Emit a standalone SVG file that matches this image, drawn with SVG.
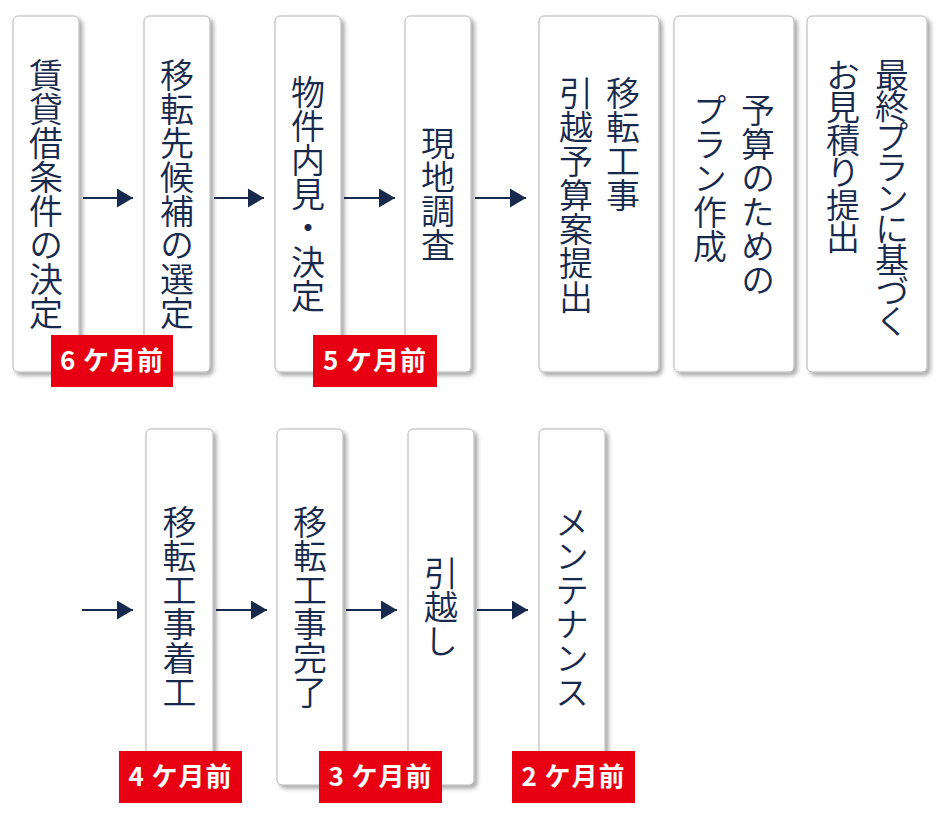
<svg xmlns="http://www.w3.org/2000/svg" width="945" height="820" viewBox="0 0 945 820">
<defs>
<style>
.box{fill:#fff;stroke:#b4b4b4;stroke-width:1;filter:url(#sh)}
.vt{font-family:"Noto Sans CJK JP","Noto Sans CJK SC",sans-serif;font-size:34px;font-weight:350;fill:#172a4d;writing-mode:vertical-rl;text-anchor:middle}
.vs{font-family:"Noto Sans CJK JP","Noto Sans CJK SC",sans-serif;font-size:34px;font-weight:350;fill:#172a4d;writing-mode:vertical-rl;text-anchor:start}
.badge{fill:#e60012}
.bt{font-family:"Noto Sans CJK JP","Noto Sans CJK SC",sans-serif;font-size:26px;font-weight:700;fill:#fff;text-anchor:middle;letter-spacing:1px}
.ar{stroke:#172a4d;stroke-width:2;fill:none;marker-end:url(#ah)}
</style>
<filter id="sh" x="-20%" y="-10%" width="150%" height="130%">
<feDropShadow dx="3" dy="3" stdDeviation="2" flood-color="#000" flood-opacity="0.35"/>
</filter>
<marker id="ah" viewBox="0 0 16 19" refX="16" refY="9.5" markerWidth="16" markerHeight="19" markerUnits="userSpaceOnUse" orient="auto">
<path d="M0,0 L16,9.5 L0,19 Z" fill="#172a4d"/>
</marker>
</defs>

<g id="connectors">
<line class="ar" x1="83" y1="198" x2="133" y2="198"/>
<line class="ar" x1="214" y1="198" x2="264" y2="198"/>
<line class="ar" x1="344" y1="198" x2="395" y2="198"/>
<line class="ar" x1="475" y1="198" x2="526" y2="198"/>
<line class="ar" x1="82" y1="610" x2="133" y2="610"/>
<line class="ar" x1="216" y1="610" x2="267" y2="610"/>
<line class="ar" x1="346" y1="610" x2="397" y2="610"/>
<line class="ar" x1="477" y1="610" x2="528" y2="610"/>
</g>

<g id="n1"><rect class="box" x="13" y="16" width="66" height="356" rx="5"/><text class="vt" x="46" y="194">賃貸借条件の決定</text></g>
<g id="n2"><rect class="box" x="144" y="16" width="66" height="356" rx="5"/><text class="vt" x="177" y="194">移転先候補の選定</text></g>
<g id="n3"><rect class="box" x="275" y="16" width="66" height="356" rx="5"/><text class="vt" x="308" y="194">物件内見・決定</text></g>
<g id="n4"><rect class="box" x="405" y="16" width="66" height="356" rx="5"/><text class="vt" x="438" y="194">現地調査</text></g>
<g id="n5"><rect class="box" x="539" y="16" width="120" height="356" rx="5"/><text class="vs" x="623" y="76">移転工事</text><text class="vs" x="576" y="76">引越予算案提出</text></g>
<g id="n6"><rect class="box" x="674" y="16" width="120" height="356" rx="5"/><text class="vs" x="758" y="93">予算のための</text><text class="vs" x="710" y="93">プラン作成</text></g>
<g id="n7"><rect class="box" x="807" y="16" width="120" height="356" rx="5"/><text class="vs" x="892" y="58" letter-spacing="-3.2">最終プランに基づく</text><text class="vs" x="843" y="58" letter-spacing="-1.5">お見積り提出</text></g>

<g id="n8"><rect class="box" x="146" y="429" width="67" height="356" rx="5"/><text class="vt" x="179.5" y="607">移転工事着工</text></g>
<g id="n9"><rect class="box" x="277" y="429" width="66" height="356" rx="5"/><text class="vt" x="310" y="607">移転工事完了</text></g>
<g id="n10"><rect class="box" x="408" y="429" width="66" height="356" rx="5"/><text class="vt" x="441" y="607">引越し</text></g>
<g id="n11"><rect class="box" x="539" y="429" width="66" height="356" rx="5"/><text class="vt" x="572" y="607">メンテナンス</text></g>

<g id="b6"><rect class="badge" x="51" y="335" width="122" height="52"/><text class="bt" x="112" y="370">6 ケ月前</text></g>
<g id="b5"><rect class="badge" x="313" y="335" width="124" height="52"/><text class="bt" x="375" y="370">5 ケ月前</text></g>
<g id="b4"><rect class="badge" x="119" y="751" width="123" height="52"/><text class="bt" x="180.5" y="786">4 ケ月前</text></g>
<g id="b3"><rect class="badge" x="319" y="751" width="123" height="52"/><text class="bt" x="380.5" y="786">3 ケ月前</text></g>
<g id="b2"><rect class="badge" x="512" y="751" width="123" height="52"/><text class="bt" x="573.5" y="786">2 ケ月前</text></g>
</svg>
